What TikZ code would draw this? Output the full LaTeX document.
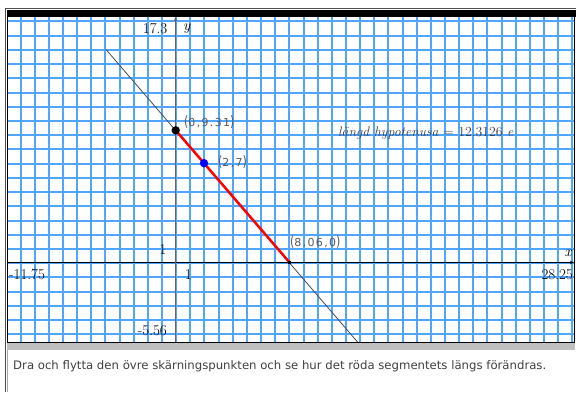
\documentclass[tikz,border=0pt]{standalone}
\usepackage{fontspec}
\newfontfamily\tisans{DejaVu Sans}
\newfontfamily\tipts{DejaVu Sans}[LetterSpace=12]
\usepackage{graphicx}
\usepackage{tikz}
\usetikzlibrary{arrows.meta}
\definecolor{gridblue}{RGB}{80,165,255}
\definecolor{bargray}{RGB}{192,192,192}
\newcommand{\tipair}[1]{\scalebox{1}[1.3]{(}#1\scalebox{1}[1.3]{)}}

\begin{document}
\begin{tikzpicture}[x=1bp,y=-1bp,
  axlabel/.style={font=\fontsize{15bp}{17bp}\selectfont,inner sep=0pt},
  ptlabel/.style={font=\tipts\fontsize{11bp}{13bp}\selectfont,text=black!65,inner sep=0pt,anchor=west}]
\useasboundingbox (0,0) rectangle (576,392);
\fill[white] (0,0) rectangle (576,392);
% window frame
\draw[black!70,line width=1bp] (5.5,392) -- (5.5,8.5) -- (576,8.5);
\fill[black] (7.3,10) rectangle (576,16.7);
\fill[bargray] (7.3,343.3) rectangle (575,350);
\draw[black!35,line width=0.8bp] (7.6,350) -- (7.6,392);
% grid
\foreach \i in {-11,...,28} {
  \pgfmathsetmacro\gx{floor(175.7+14.15*\i)+0.8}
  \draw[gridblue,line width=1.6bp] (\gx,16.7) -- (\gx,342);
}
\foreach \j in {-5,...,17} {
  \pgfmathsetmacro\gy{floor(262.7-14.22*\j)+0.8}
  \draw[gridblue,line width=1.6bp] (8.3,\gy) -- (574.2,\gy);
}
% axes
\coordinate (xl) at (8.3,262.5);
\coordinate (xr) at (574,262.5);
\coordinate (yb) at (175.5,342);
\coordinate (yt) at (175.5,17.2);
\draw[black,line width=1bp,-{Stealth[length=4bp,width=3.5bp]}] (xl) -- (xr);
\draw[black!60,line width=1bp,-{Stealth[length=4bp,width=3.5bp]}] (yb) -- (yt);
% line and segment
\begin{scope}
\clip (8.3,16.7) rectangle (574.2,342);
\begin{scope}[shift={(175.7,262.7)},x=14.15bp,y=14.22bp]
\coordinate (top) at (-4.93,15);
\coordinate (bot) at (12.87,-5.6);
\coordinate (A) at (0,9.31);
\coordinate (B) at (8.06,0);
\coordinate (C) at (2,7);
\draw[black!70,line width=0.8bp] (top) -- (bot);
\draw[red,line width=2.5bp] (A) -- (B);
\fill[black] (A) circle[radius=4.2bp];
\fill[blue] (C) circle[radius=4.2bp];
\fill[black] (B) ++(-1.7bp,-1.7bp) rectangle ++(3.4bp,3.4bp);
\end{scope}
\end{scope}
\draw[line width=1.2bp] (7.8,16.7) -- (7.8,342.2) -- (574.8,342.2) -- (574.8,16.7);
% labels
\node[axlabel,anchor=east] (ymax) at (167.5,29) {17.3};
\node[axlabel] (ylab) at (187,28.5) {\textit{y}};
\node[axlabel] (xlab) at (568.3,253) {\textit{x}};
\node[axlabel,anchor=west] (xmin) at (9,275) {-11.75};
\node[axlabel,anchor=east] (xmax) at (573,275) {28.25};
\node[axlabel] (yone) at (162.7,249.3) {1};
\node[axlabel] (xone) at (188.3,275) {1};
\node[axlabel,anchor=east] (ymin) at (167,330.7) {-5.56};
\node[ptlabel] (labA) at (184,122) {\tipair{0,9.31}};
\node[ptlabel] (labC) at (218,162) {\tipair{2,7}};
\node[ptlabel] (labB) at (290,242) {\tipair{8.06,0}};
\node[font=\fontsize{13.8bp}{15bp}\selectfont,text=black!75,inner sep=0pt,anchor=west] (hyp) at (338,133)
  {\textit{längd hypotenusa} = 12.3126 \textit{e}};
\node[font=\tisans\fontsize{11.7bp}{13bp}\selectfont,text=black!75,inner sep=0pt,anchor=west] (caption) at (13,366)
  {Dra och flytta den övre skärningspunkten och se hur det röda segmentets längs förändras.};
\end{tikzpicture}
\end{document}
